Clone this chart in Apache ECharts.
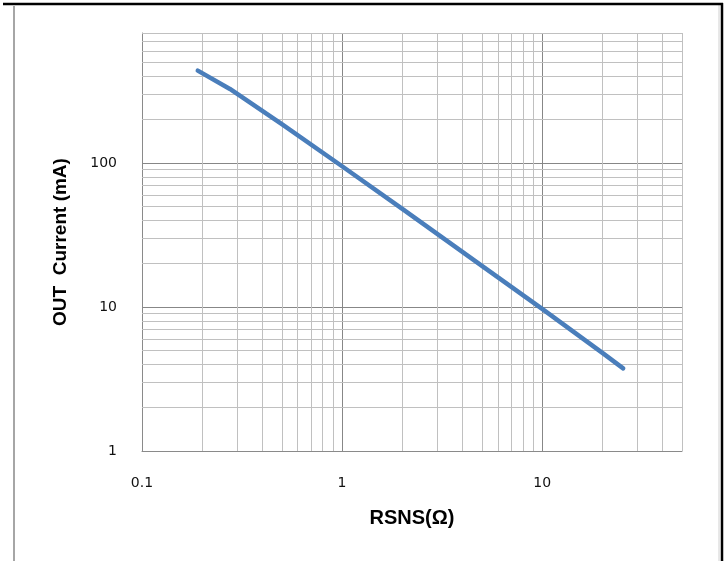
<!DOCTYPE html>
<html>
<head>
<meta charset="utf-8">
<script src="https://cdn.jsdelivr.net/npm/echarts@6/dist/echarts.min.js"></script>
<style>html,body{margin:0;padding:0;background:#fff;}#c{width:728px;height:561px;}</style>
</head>
<body>
<div id="c"></div>
<script>
// Data
var rsns = [0.19, 0.275, 0.5, 1, 2, 5, 10, 20, 25.4];
var current = [438, 327, 186, 95, 48, 19.3, 9.7, 4.8, 3.75];
// Axis ranges and grid values
var xRange = [0.1, 50];
var yRange = [1, 800];
var xMinor = [0.2,0.3,0.4,0.5,0.6,0.7,0.8,0.9,2,3,4,5,6,7,8,9,20,30,40,50];
var yMinor = [2,3,4,5,6,7,8,9,20,30,40,50,60,70,80,90,200,300,400,500,600,700,800];
var xTitle = 'RSNS(Ω)';
var yTitle = 'OUT  Current (mA)';

function decadeLabel(v) {
  var l = Math.log10(v);
  if (Math.abs(l - Math.round(l)) < 1e-6) {
    var p = Math.round(l);
    return p < 0 ? Number(Math.pow(10, p).toFixed(-p)).toString() : String(Math.pow(10, p));
  }
  return '';
}

var chart = echarts.init(document.getElementById('c'), null, {renderer: 'canvas'});
var gridLines = [];
xMinor.forEach(function (v) { gridLines.push({xAxis: v}); });
yMinor.forEach(function (v) { gridLines.push({yAxis: v}); });

chart.setOption({
  animation: false,
  backgroundColor: '#ffffff',
  grid: {left: 142, right: 46, top: 33, bottom: 110, containLabel: false},
  xAxis: {
    type: 'log', logBase: 10, min: xRange[0], max: xRange[1],
    name: xTitle, nameLocation: 'middle', nameGap: 57,
    nameTextStyle: {fontFamily: 'Liberation Sans', fontWeight: 'bold', fontSize: 20, color: '#000'},
    axisLine: {show: true, lineStyle: {color: '#8a8a8a', width: 1}},
    axisTick: {show: false},
    axisLabel: {margin: 25, fontFamily: 'DejaVu Sans', fontSize: 14, color: '#111', showMaxLabel: false, formatter: decadeLabel},
    splitLine: {show: true, showMinLine: false, showMaxLine: false, lineStyle: {color: '#878787', width: 1}}
  },
  yAxis: {
    type: 'log', logBase: 10, min: yRange[0], max: yRange[1],
    name: yTitle, nameLocation: 'middle', nameGap: 72, nameRotate: 90,
    nameTextStyle: {fontFamily: 'Liberation Sans', fontWeight: 'bold', fontSize: 19, color: '#000'},
    axisLine: {show: true, lineStyle: {color: '#8a8a8a', width: 1}},
    axisTick: {show: false},
    axisLabel: {margin: 25, fontFamily: 'DejaVu Sans', fontSize: 14, color: '#111', showMaxLabel: false, formatter: decadeLabel},
    splitLine: {show: true, showMinLine: false, showMaxLine: false, lineStyle: {color: '#878787', width: 1}}
  },
  series: [{
    type: 'line',
    z: 5,
    data: rsns.map(function (r, i) { return [r, current[i]]; }),
    showSymbol: false,
    symbol: 'none',
    lineStyle: {color: '#4a7ebb', width: 4.5, cap: 'round', join: 'round'},
    markLine: {
      silent: true, z: 1, symbol: ['none', 'none'],
      label: {show: false},
      lineStyle: {type: 'solid', color: '#c0c0c0', width: 1},
      emphasis: {disabled: true},
      data: gridLines
    }
  }],
  graphic: [
    {type: 'line', silent: true, shape: {x1: 14, y1: 6, x2: 14, y2: 561}, style: {stroke: '#a6a6a6', lineWidth: 2}},
    {type: 'line', silent: true, shape: {x1: 719, y1: 5, x2: 719, y2: 561}, style: {stroke: '#d0d0d0', lineWidth: 1}},
    {type: 'line', silent: true, shape: {x1: 3, y1: 4, x2: 723, y2: 4}, style: {stroke: '#000', lineWidth: 2.5}},
    {type: 'line', silent: true, shape: {x1: 722, y1: 3, x2: 722, y2: 561}, style: {stroke: '#000', lineWidth: 2.5}}
  ]
});
</script>
</body>
</html>
